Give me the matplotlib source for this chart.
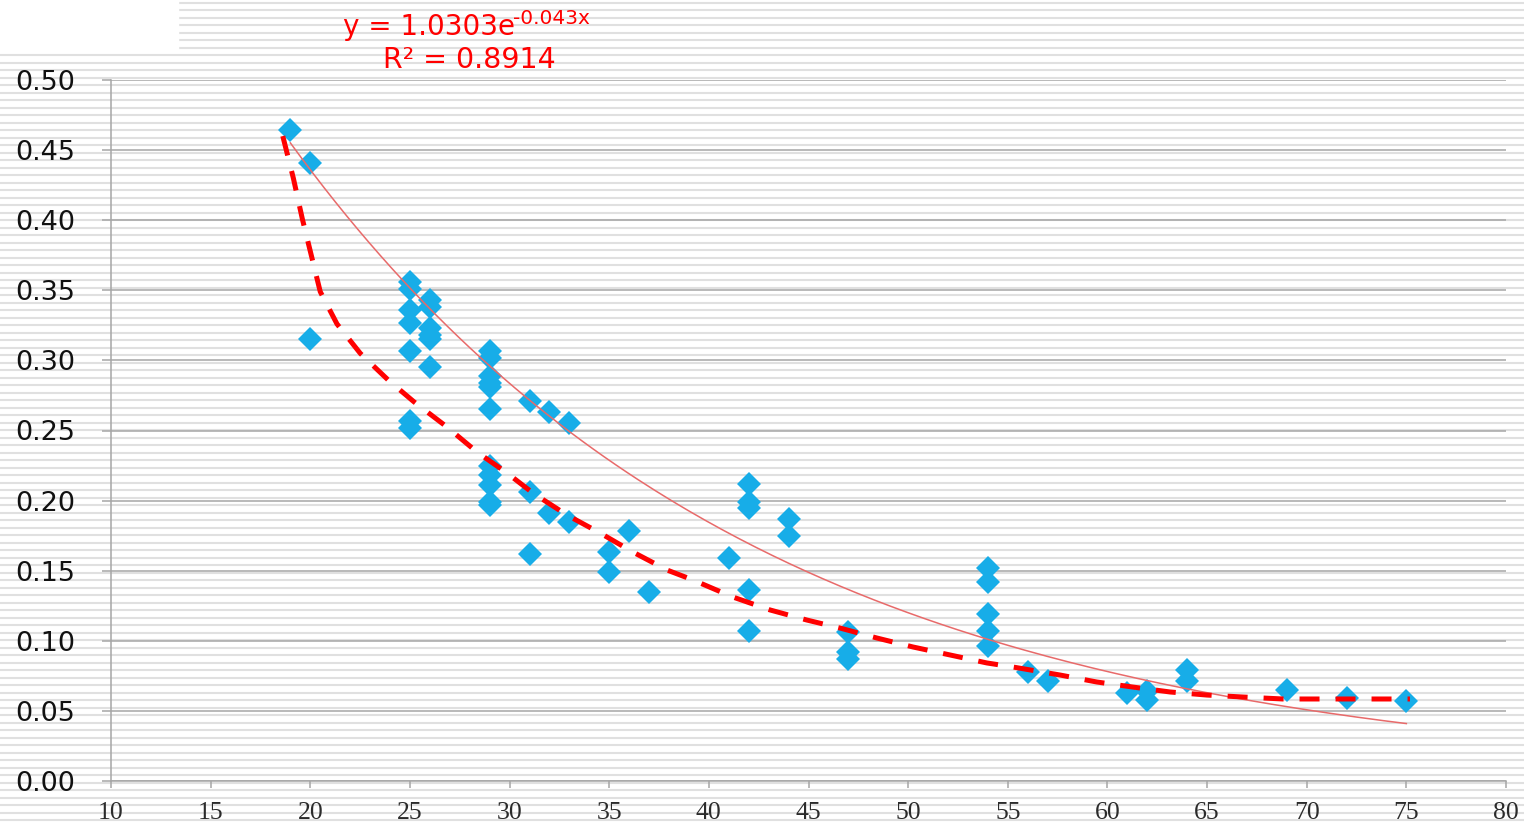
import numpy as np
import matplotlib
matplotlib.use("Agg")
import matplotlib.pyplot as plt
from matplotlib.patches import Rectangle
from matplotlib.font_manager import FontProperties

# scatter points
pts_x = [19, 20, 20,
         25, 25, 25, 25, 25, 25, 25,
         26, 26, 26, 26, 26, 26,
         29, 29, 29, 29, 29, 29, 29, 29, 29, 29, 29,
         31, 31, 31, 32, 32, 33, 33, 35, 35, 36, 37, 41,
         42, 42, 42, 42, 42, 44, 44, 47, 47, 47,
         54, 54, 54, 54, 54, 56, 57, 61, 62, 62, 64, 64, 69, 72, 75]
pts_y = [0.464, 0.441, 0.315,
         0.356, 0.351, 0.336, 0.327, 0.307, 0.257, 0.252,
         0.343, 0.338, 0.323, 0.318, 0.315, 0.295,
         0.307, 0.302, 0.289, 0.284, 0.281, 0.265, 0.225, 0.218, 0.211, 0.199, 0.197,
         0.271, 0.206, 0.162, 0.263, 0.191, 0.255, 0.185, 0.163, 0.149, 0.178, 0.135, 0.159,
         0.212, 0.199, 0.195, 0.136, 0.107, 0.187, 0.175, 0.106, 0.092, 0.087,
         0.152, 0.142, 0.119, 0.107, 0.096, 0.078, 0.071, 0.063, 0.064, 0.058, 0.079, 0.071,
         0.065, 0.059, 0.057]

# hand-drawn dashed curve
dash_x = [18.62, 19.15, 19.60, 20.05, 20.50, 21.34, 22.51, 23.91, 25.20, 26.86,
          28.36, 29.87, 31.17, 32.88, 34.54, 36.19, 37.90, 39.20, 41.21, 43.07,
          44.92, 46.58, 48.43, 50.24, 52.10, 53.95, 55.26, 57.62, 59.47, 61.28,
          63.14, 64.99, 66.80, 68.81, 70.51, 75.18]
dash_y = [0.460, 0.430, 0.401, 0.375, 0.349, 0.326, 0.305, 0.286, 0.2705, 0.2525,
          0.2347, 0.2197, 0.2054, 0.1897, 0.1769, 0.1633, 0.1505, 0.1434, 0.1312, 0.1220,
          0.1148, 0.1091, 0.1020, 0.0956, 0.0899, 0.0842, 0.0813, 0.0756, 0.0706, 0.0670,
          0.0635, 0.0613, 0.0599, 0.0585, 0.0585, 0.0585]

# exponential trendline as printed on the chart
TREND_A = 1.0303
TREND_B = -0.043
trend_range = (19, 75)

x_ticks = list(range(10, 81, 5))
y_ticks = [0.00, 0.05, 0.10, 0.15, 0.20, 0.25, 0.30, 0.35, 0.40, 0.45, 0.50]
y_labels = ["%.2f" % v for v in y_ticks]

W, H = 1524, 824
fig = plt.figure(figsize=(W / 100, H / 100), dpi=100)
fig.patch.set_facecolor("white")

# striped background (pattern fill of the chart area)
bg = fig.add_axes([0, 0, 1, 1], zorder=0)
bg.set_xlim(0, W)
bg.set_ylim(H, 0)
bg.axis("off")
bg.hlines(np.arange(2.7, H, 7.5), 0, W, color="#e0e0e0", lw=1.5)
bg.add_patch(Rectangle((0, 0), 178, 52, color="white", zorder=3))

ax = fig.add_axes([111 / W, 43 / H, 1395 / W, 701 / H], zorder=1)
ax.patch.set_alpha(0)

ax.plot(pts_x, pts_y, linestyle="none", marker="D", markersize=12.5,
        color="#17ade8", markeredgewidth=0, zorder=3)

tx = np.linspace(trend_range[0], trend_range[1], 200)
ax.plot(tx, TREND_A * np.exp(TREND_B * tx), color="#e86a6a", lw=1.1, zorder=4)

ax.plot(dash_x, dash_y, color="#ff0000", lw=3.6, dashes=(4, 3.2), zorder=5)

ax.set_xlim(10, 80)
ax.set_ylim(0, 0.5)

xfont = FontProperties(family="Liberation Serif", size=18.5)
yfont = FontProperties(family="DejaVu Sans", size=19.5)
ax.set_xticks(x_ticks)
ax.set_xticklabels([str(v) for v in x_ticks], fontproperties=xfont, color="#2b2b2b")
ax.set_yticks(y_ticks)
ax.set_yticklabels(y_labels, fontproperties=yfont, color="#111111")

ax.yaxis.grid(True, color="#a6a6a6", lw=1.1)
ax.xaxis.grid(False)
ax.set_axisbelow(True)
for s in ["top", "right"]:
    ax.spines[s].set_visible(False)
for s in ["left", "bottom"]:
    ax.spines[s].set_color("#a6a6a6")
    ax.spines[s].set_linewidth(1.1)

ax.tick_params(axis="y", length=6.5, width=1.1, color="#a6a6a6", pad=19)
ax.tick_params(axis="x", length=5, width=1.1, color="#a6a6a6", pad=10)

# trendline equation
fig.text(343 / W, 1 - 35 / H, "y = 1.0303e", color="#ff0000", fontsize=20,
         ha="left", va="baseline")
fig.text(513 / W, 1 - 24 / H, "-0.043x", color="#ff0000", fontsize=14.5,
         ha="left", va="baseline")
fig.text(469 / W, 1 - 68 / H, "R² = 0.8914", color="#ff0000", fontsize=20.5,
         ha="center", va="baseline")

fig.savefig("out.png", dpi=100)
